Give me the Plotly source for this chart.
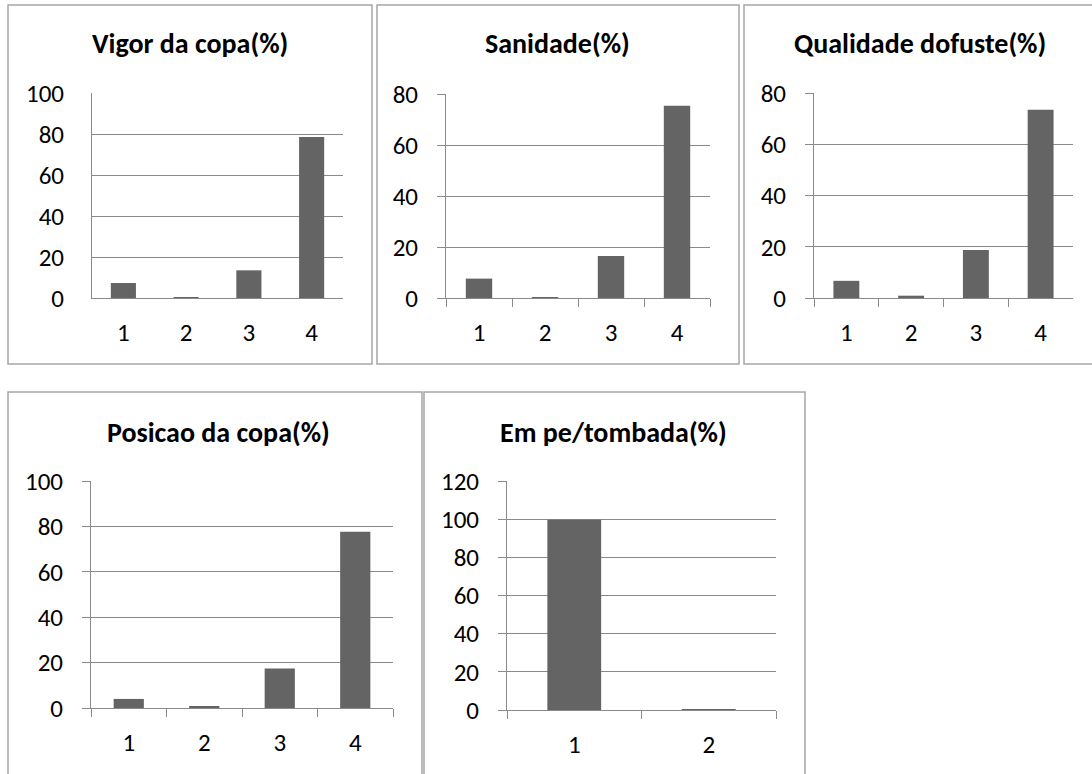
import plotly.graph_objects as go

W, H = 1092, 774
OFF = 0

titles = ["Vigor da copa(%)", "Sanidade(%)", "Qualidade dofuste(%)",
          "Posicao da copa(%)", "Em pe/tombada(%)"]
cats4 = ["1", "2", "3", "4"]
cats2 = ["1", "2"]
vigor = [7.3, 0.3, 13.5, 78.5]
sanidade = [7.6, 0.3, 16.5, 75.4]
qualidade = [6.7, 0.9, 18.7, 73.5]
posicao = [4.0, 0.6, 17.4, 77.6]
empe = [99.7, 0.3]
yranges = [100, 80, 80, 100, 120]

series = [(cats4, vigor), (cats4, sanidade), (cats4, qualidade),
          (cats4, posicao), (cats2, empe)]

# plot areas in screen pixels: (x0, x1, ytop, ybottom)
areas = [(92, 343, 93, 298), (446, 710, 94, 298), (814, 1073, 93, 298),
         (91, 393, 481, 708), (507, 776, 481, 710)]
# chart boxes
boxes = [(8, 372, 5, 364), (377, 739, 5, 364), (744, 1100, 5, 364),
         (8, 422, 392, 790), (424, 805, 392, 790)]
title_pos = [(190, 44), (557, 44), (920, 44), (218, 432), (613, 432)]
has_ticks = [False, True, True, True, True]

FONT = "Carlito, Calibri, Lato, sans-serif"
GRID = "#8a8a8a"
BAR = "#646464"

fig = go.Figure()
shapes = []
annotations = []

def px(x):
    return (x - OFF) / W

def py(y):
    return 1 - (y - OFF) / H

for i, ((cats, vals), (x0, x1, yt, yb), ymax) in enumerate(zip(series, areas, yranges)):
    n = i + 1
    xa = "x" if n == 1 else f"x{n}"
    ya = "y" if n == 1 else f"y{n}"
    fig.add_trace(go.Bar(x=cats, y=vals, marker=dict(color=BAR, line=dict(width=0)),
                         width=0.4, xaxis=xa, yaxis=ya, showlegend=False,
                         hoverinfo="x+y"))
    xk = "xaxis" if n == 1 else f"xaxis{n}"
    yk = "yaxis" if n == 1 else f"yaxis{n}"
    tk = has_ticks[i]
    fig.layout[xk] = dict(domain=[px(x0), px(x1)], anchor=ya, type="category",
                          tickson="boundaries", automargin=False,
                          ticks="outside" if tk else "",
                          ticklen=8, tickcolor=GRID, tickwidth=1,
                          showline=True, linecolor=GRID, linewidth=1,
                          showgrid=False, zeroline=False,
                          ticklabelstandoff=12,
                          tickfont=dict(family=FONT, size=25, color="#000"),
                          fixedrange=True)
    fig.layout[yk] = dict(domain=[py(yb), py(yt)], anchor=xa, automargin=False,
                          range=[0, ymax], dtick=20,
                          ticks="outside" if tk else "",
                          ticklen=8, tickcolor=GRID, tickwidth=1,
                          showline=True, linecolor=GRID, linewidth=1,
                          showgrid=True, gridcolor=GRID, gridwidth=1,
                          zeroline=False, ticklabelstandoff=14 if tk else 22,
                          tickfont=dict(family=FONT, size=25, color="#000"),
                          fixedrange=True)

for (bx0, bx1, by0, by1) in boxes:
    shapes.append(dict(type="rect", xref="paper", yref="paper",
                       x0=px(bx0), x1=px(bx1), y0=py(by1), y1=py(by0),
                       line=dict(color="#a6a6a6", width=1.5), fillcolor="rgba(0,0,0,0)",
                       layer="below"))

for t, (tx, ty) in zip(titles, title_pos):
    annotations.append(dict(text=f"<b>{t}</b>", x=px(tx), y=py(ty), xref="paper",
                            yref="paper", showarrow=False, xanchor="center",
                            yanchor="middle",
                            font=dict(family=FONT, size=28, color="#000")))

fig.update_layout(width=W, height=H, margin=dict(l=0, r=0, t=0, b=0, pad=0),
                  paper_bgcolor="white", plot_bgcolor="white",
                  shapes=shapes, annotations=annotations, bargap=0.6)

fig.write_html("out.html", config={"displayModeBar": False},
               post_script="document.body.style.margin='0';document.body.style.overflow='hidden';")
